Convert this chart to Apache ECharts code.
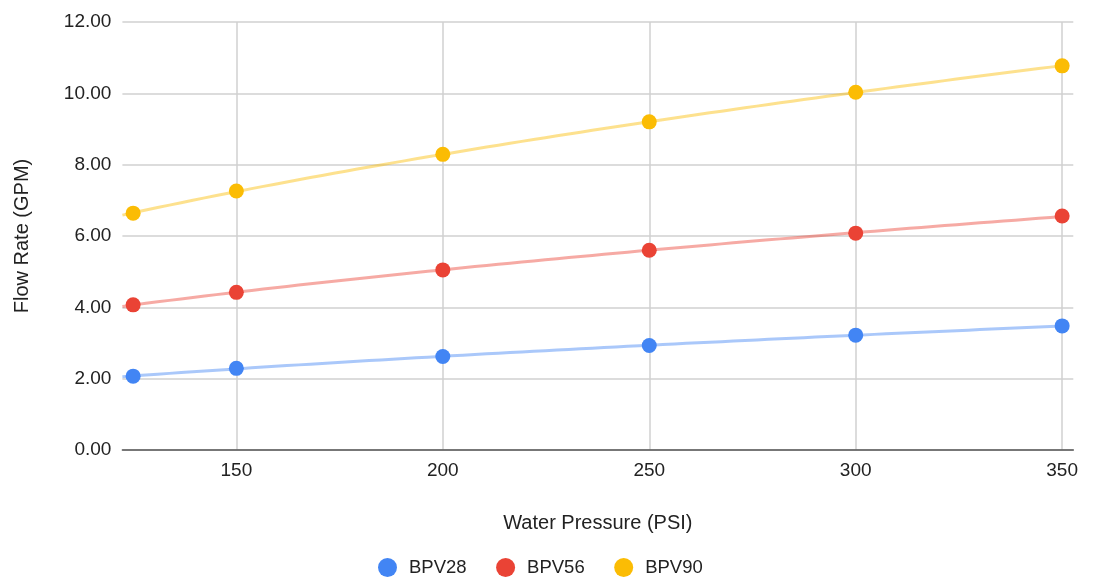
<!DOCTYPE html>
<html><head><meta charset="utf-8">
<script src="https://cdn.jsdelivr.net/npm/echarts@6/dist/echarts.min.js"></script>
<style>html,body{margin:0;padding:0;background:#fff}#c{width:1096px;height:579px}</style>
</head><body><div id="c"></div>
<script>
const pressures = [125, 150, 200, 250, 300, 350];
const seriesNames = ['BPV28', 'BPV56', 'BPV90'];
const bpv28 = [2.07, 2.29, 2.62, 2.93, 3.22, 3.48];
const bpv56 = [4.07, 4.42, 5.05, 5.6, 6.08, 6.56];
const bpv90 = [6.64, 7.26, 8.29, 9.2, 10.03, 10.77];
const xTicks = [150, 200, 250, 300, 350];
const colors = ['#4285F4', '#EA4335', '#FBBC04'];
const xMin = 122.4, xMax = 352.7;

// power trendline (least squares in log-log space), drawn from axis min to last data point
function powerFit(xs, ys) {
  const lx = xs.map(Math.log), ly = ys.map(Math.log);
  const n = xs.length;
  const mx = lx.reduce((a, b) => a + b, 0) / n;
  const my = ly.reduce((a, b) => a + b, 0) / n;
  let sxy = 0, sxx = 0;
  for (let i = 0; i < n; i++) { sxy += (lx[i] - mx) * (ly[i] - my); sxx += (lx[i] - mx) ** 2; }
  const b = sxy / sxx, a = Math.exp(my - b * mx);
  const end = xs[xs.length - 1];
  const pts = [];
  const steps = 80;
  for (let k = 0; k <= steps; k++) {
    const x = xMin + (end - xMin) * k / steps;
    pts.push([x, a * Math.pow(x, b)]);
  }
  return pts;
}

const all = [bpv28, bpv56, bpv90];
const series = [];
all.forEach((vals, i) => {
  series.push({
    name: seriesNames[i] + ' trend', type: 'line', data: powerFit(pressures, vals),
    symbol: 'none', smooth: false, lineStyle: { color: colors[i], width: 3, opacity: 0.45 },
    itemStyle: { color: colors[i] }, silent: true, z: 2, clip: true
  });
});
all.forEach((vals, i) => {
  series.push({
    name: seriesNames[i], type: 'scatter', symbol: 'circle', symbolSize: 15,
    data: pressures.map((p, j) => [p, vals[j]]),
    itemStyle: { color: colors[i], opacity: 1 }, z: 3
  });
});

const font = 'Liberation Sans, Arial, sans-serif';
const chart = echarts.init(document.getElementById('c'), null, { renderer: 'canvas' });
chart.setOption({
  animation: false,
  textStyle: { fontFamily: font },
  grid: { left: 122.4, right: 22.7, top: 22, bottom: 129, containLabel: false },
  legend: {
    data: seriesNames.map((n, i) => ({ name: n, icon: 'circle', itemStyle: { color: colors[i] } })),
    left: 373, top: 553, itemWidth: 19, itemHeight: 19, itemGap: 29.5,
    textStyle: { fontSize: 18.5, color: '#222', fontFamily: font, padding: [0, 0, 0, 7] }
  },
  xAxis: {
    type: 'value', min: xMin, max: xMax,
    name: 'Water Pressure (PSI)', nameLocation: 'middle', nameGap: 63,
    nameTextStyle: { fontSize: 20, color: '#222', fontFamily: font },
    axisLine: { show: true, lineStyle: { color: '#555', width: 1.5 } },
    axisTick: { show: false, customValues: xTicks },
    axisLabel: { customValues: xTicks, fontSize: 19, color: '#222', margin: 11, fontFamily: font },
    splitLine: { show: true, lineStyle: { color: '#d0d0d0', width: 1.5 } }
  },
  yAxis: {
    type: 'value', min: 0, max: 12, interval: 2,
    name: 'Flow Rate (GPM)', nameLocation: 'middle', nameGap: 90,
    nameTextStyle: { fontSize: 20, color: '#222', fontFamily: font },
    axisLine: { show: false }, axisTick: { show: false },
    axisLabel: { formatter: v => v.toFixed(2), fontSize: 19, color: '#222', margin: 11, fontFamily: font },
    splitLine: { show: true, lineStyle: { color: '#d0d0d0', width: 1.5 } }
  },
  series: series
});
</script></body></html>
